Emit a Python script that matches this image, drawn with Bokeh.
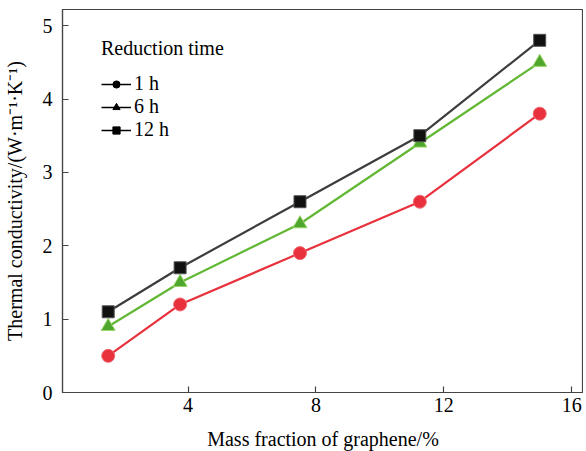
from bokeh.plotting import figure
from bokeh.models import Range1d, Legend, LegendItem, FixedTicker
from bokeh.embed import file_html
from bokeh.resources import INLINE

# Data
mass_fraction = [1.5, 3.75, 7.5, 11.25, 15.0]
k_1h = [0.5, 1.2, 1.9, 2.6, 3.8]
k_6h = [0.9, 1.5, 2.3, 3.4, 4.5]
k_12h = [1.1, 1.7, 2.6, 3.5, 4.8]
series_labels = ["1 h", "6 h", "12 h"]
x_ticks = [4, 8, 12, 16]
y_ticks = [0, 1, 2, 3, 4, 5]

FONT = "Liberation Serif"
FS = "20px"

p = figure(width=583, height=452, output_backend="svg", toolbar_location=None,
           x_range=Range1d(0.07, 16.37), y_range=Range1d(0, 5.22),
           min_border_left=53, min_border_right=0, min_border_top=9, min_border_bottom=48)
p.grid.visible = False
p.outline_line_color = "#444444"
p.outline_line_width = 1.2
p.background_fill_color = "white"

# lines and markers
p.line(mass_fraction, k_12h, line_color="#3d3d3d", line_width=2.2)
p.line(mass_fraction, k_6h, line_color="#62b834", line_width=2.2)
p.line(mass_fraction, k_1h, line_color="#e8313d", line_width=2.2)
p.scatter(mass_fraction, k_1h, marker="circle", size=13, fill_color="#e8313d", line_color="#f06a72", line_width=1)
p.scatter(mass_fraction, k_6h, marker="triangle", size=14, fill_color="#4ea62c", line_color="#9ad66a", line_width=1)
p.scatter(mass_fraction, k_12h, marker="square", size=12, fill_color="#111111", line_color="#555555", line_width=1)

# legend proxies (black)
nanx = [float("nan")]
r1 = p.line(nanx, nanx, line_color="black", line_width=1.5)
m1 = p.scatter(nanx, nanx, marker="circle", size=11, color="black")
r2 = p.line(nanx, nanx, line_color="black", line_width=1.5)
m2 = p.scatter(nanx, nanx, marker="triangle", size=12, color="black")
r3 = p.line(nanx, nanx, line_color="black", line_width=1.5)
m3 = p.scatter(nanx, nanx, marker="square", size=11, color="black")

legend = Legend(items=[LegendItem(label=series_labels[0], renderers=[r1, m1]),
                       LegendItem(label=series_labels[1], renderers=[r2, m2]),
                       LegendItem(label=series_labels[2], renderers=[r3, m3])],
                location=(29, 241), title="Reduction time",
                title_text_font=FONT, title_text_font_size=FS, title_text_font_style="normal",
                title_text_color="black", title_standoff=12,
                label_text_font=FONT, label_text_font_size=FS, label_text_color="black",
                glyph_width=30, glyph_height=18, label_standoff=3, spacing=0,
                padding=10, margin=0, border_line_alpha=0, background_fill_alpha=0,
                label_height=18)
p.add_layout(legend, "center")

for ax in (p.xaxis[0], p.yaxis[0]):
    ax.major_tick_in = 6
    ax.major_tick_out = 0
    ax.minor_tick_line_color = None
    ax.axis_line_color = "#444444"
    ax.axis_line_width = 1.2
    ax.major_tick_line_color = "#444444"
    ax.major_tick_line_width = 1.2
    ax.major_label_text_font = FONT
    ax.major_label_text_font_size = FS
    ax.major_label_text_color = "black"
    ax.axis_label_text_font = FONT
    ax.axis_label_text_font_size = FS
    ax.axis_label_text_font_style = "normal"
    ax.axis_label_text_color = "black"

p.xaxis.ticker = FixedTicker(ticks=x_ticks)
p.yaxis.ticker = FixedTicker(ticks=y_ticks)
p.xaxis.axis_label = "Mass fraction of graphene/%"
p.yaxis.axis_label = "Thermal conductivity/(W\u00b7m\u207b\u00b9\u00b7K\u207b\u00b9)"
p.xaxis.major_label_standoff = 5
p.yaxis.major_label_standoff = 10
p.xaxis.axis_label_standoff = 13
p.yaxis.axis_label_standoff = 14

open("out.html", "w").write(file_html(p, INLINE))
